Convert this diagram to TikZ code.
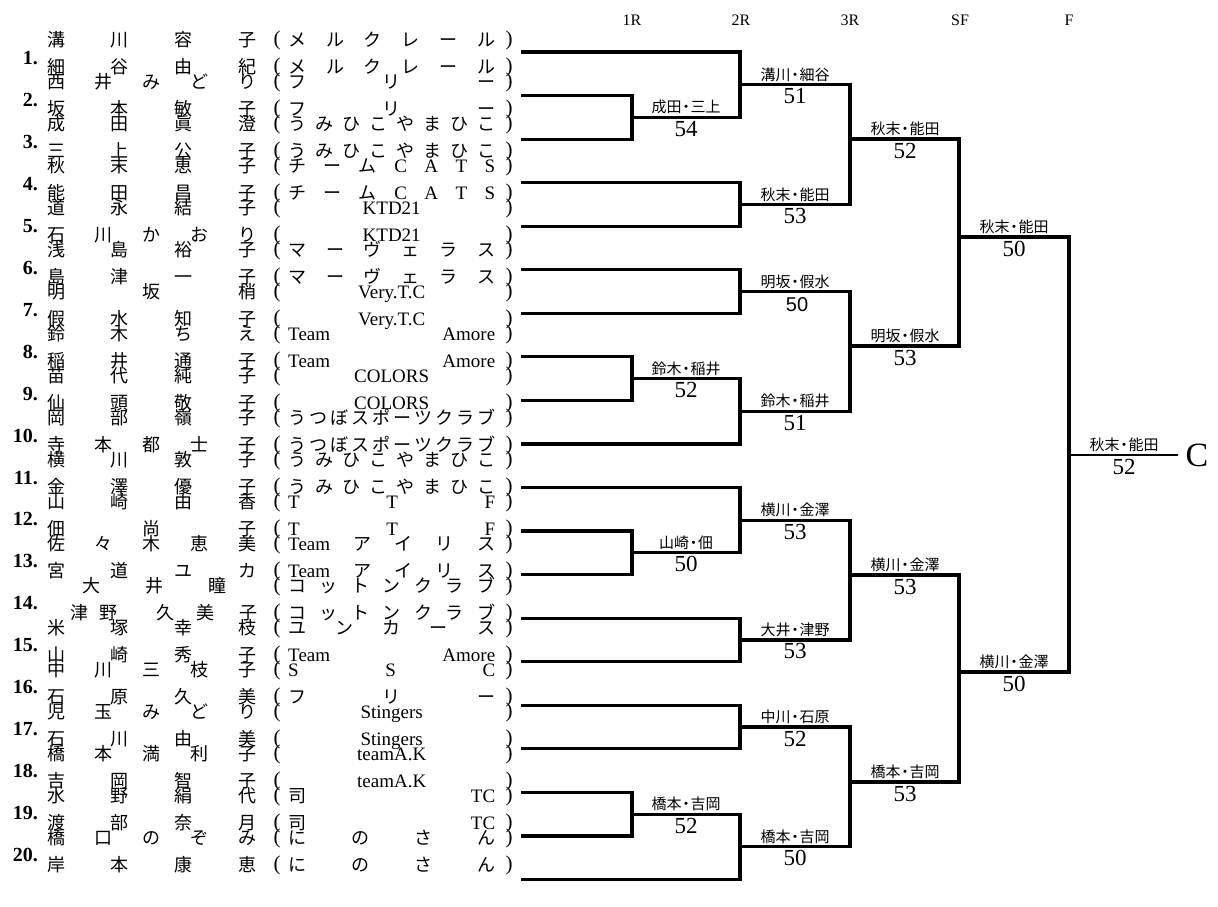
\documentclass[tikz,border=0pt]{standalone}
\usepackage{fontspec}
\setmainfont{Liberation Serif}
\newfontfamily\jp{Noto Sans CJK JP}
\newfontfamily\arl{Liberation Sans}
\newcommand\lat[1]{{\rmfamily\fontsize{19pt}{19pt}\selectfont #1}}
\newcommand\dt{\makebox[0.6em]{・}}
\def\distend{DISTENDMARK}
\newcommand\dist[1]{\distA#1\distend}
\def\distA#1{#1\futurelet\dnext\distC}
\def\distC{\ifx\dnext\distend\expandafter\diststop\else\expandafter\distgo\fi}
\def\diststop\distend{}
\def\distgo{\hfill\distA}
\tikzset{
 br/.style={line width=3.2pt, line join=miter},
 fin/.style={line width=2.6pt},
 nm/.style={anchor=base west, inner sep=0pt, font=\jp\fontsize{18pt}{18pt}\selectfont},
 prn/.style={anchor=base, inner sep=0pt, font=\rmfamily\fontsize{21pt}{21pt}\selectfont},
 num/.style={anchor=base east, inner sep=0pt, font=\rmfamily\bfseries\fontsize{20pt}{20pt}\selectfont},
 hdr/.style={inner sep=0pt, font=\rmfamily\fontsize{16pt}{16pt}\selectfont},
 lbl/.style={inner sep=0pt, font=\jp\fontsize{15pt}{15pt}\selectfont},
 sc/.style={inner sep=0pt, font=\rmfamily\fontsize{23pt}{23pt}\selectfont},
 scs/.style={inner sep=0pt, font=\arl\fontsize{20pt}{20pt}\selectfont},
 ch/.style={inner sep=0pt, font=\rmfamily\fontsize{34pt}{34pt}\selectfont},
}
% #1 id, #2 pair, #3 offset, #4 name content, #5 team content
\newcommand\plrow[5]{%
 \pgfmathsetmacro\yy{58+41.95*(#2-1)+#3}%
 \node[nm] (n#1) at (47,\yy+7) {\hbox to 209pt{#4}};
 \node[prn] (p#1) at (277,\yy+6) {(};
 \node[nm] (t#1) at (288,\yy+7) {\hbox to 207pt{#5}};
 \node[prn] (q#1) at (509,\yy+6) {)};
}
% #1 id, #2 x, #3 y, #4 name, #5 score
\newcommand\res[5]{%
 \node[lbl] (l#1) at (#2,#3-10) {#4};
 \node[sc] (s#1) at (#2,#3+11.5) {#5};
}
\begin{document}
\begin{tikzpicture}[x=1pt,y=-1pt]
\fill[white] (0,0) rectangle (1218,907);
\useasboundingbox (0,0) rectangle (1218,907);

% headers
\node[hdr] (h1) at (632,20) {1R};
\node[hdr] (h2) at (741,20) {2R};
\node[hdr] (h3) at (850,20) {3R};
\node[hdr] (h4) at (960,20) {SF};
\node[hdr] (h5) at (1069,20) {F};

% pair numbers
\foreach \k in {1,...,20} \node[num] (k\k) at (38,{58+41.95*(\k-1)+6.5}) {\k.};

% player lines
\plrow{1}{1}{-18}{\dist{溝川容子}}{\dist{メルクレール}}
\plrow{2}{1}{9}{\dist{細谷由紀}}{\dist{メルクレール}}
\plrow{3}{2}{-18}{\dist{西井みどり}}{\dist{フリー}}
\plrow{4}{2}{9}{\dist{坂本敏子}}{\dist{フリー}}
\plrow{5}{3}{-18}{\dist{成田眞澄}}{\dist{うみひこやまひこ}}
\plrow{6}{3}{9}{\dist{三上公子}}{\dist{うみひこやまひこ}}
\plrow{7}{4}{-18}{\dist{秋末恵子}}{\dist{チーム{\lat C}{\lat A}{\lat T}{\lat S}}}
\plrow{8}{4}{9}{\dist{能田昌子}}{\dist{チーム{\lat C}{\lat A}{\lat T}{\lat S}}}
\plrow{9}{5}{-18}{\dist{道永結子}}{\hfil\lat{KTD21}\hfil}
\plrow{10}{5}{9}{\dist{石川かおり}}{\hfil\lat{KTD21}\hfil}
\plrow{11}{6}{-18}{\dist{浅島裕子}}{\dist{マーヴェラス}}
\plrow{12}{6}{9}{\dist{島津一子}}{\dist{マーヴェラス}}
\plrow{13}{7}{-18}{\dist{明坂梢}}{\hfil\lat{Very.T.C}\hfil}
\plrow{14}{7}{9}{\dist{假水知子}}{\hfil\lat{Very.T.C}\hfil}
\plrow{15}{8}{-18}{\dist{鈴木ちえ}}{\dist{{\lat{Team}}{\lat{Amore}}}}
\plrow{16}{8}{9}{\dist{稲井通子}}{\dist{{\lat{Team}}{\lat{Amore}}}}
\plrow{17}{9}{-18}{\dist{苗代純子}}{\hfil\lat{COLORS}\hfil}
\plrow{18}{9}{9}{\dist{仙頭敬子}}{\hfil\lat{COLORS}\hfil}
\plrow{19}{10}{-18}{\dist{岡部嶺子}}{\dist{うつぼスポーツクラブ}}
\plrow{20}{10}{9}{\dist{寺本都士子}}{\dist{うつぼスポーツクラブ}}
\plrow{21}{11}{-18}{\dist{横川敦子}}{\dist{うみひこやまひこ}}
\plrow{22}{11}{9}{\dist{金澤優子}}{\dist{うみひこやまひこ}}
\plrow{23}{12}{-18}{\dist{山崎由香}}{\dist{{\lat T}{\lat T}{\lat F}}}
\plrow{24}{12}{9}{\dist{佃尚子}}{\dist{{\lat T}{\lat T}{\lat F}}}
\plrow{25}{13}{-18}{\dist{佐々木恵美}}{\dist{{\lat{Team}}アイリス}}
\plrow{26}{13}{9}{\dist{宮道ユカ}}{\dist{{\lat{Team}}アイリス}}
\plrow{27}{14}{-18}{\hskip35pt 大\hfill 井\hfill 瞳\hskip30pt}{\dist{コットンクラブ}}
\plrow{28}{14}{9}{\hskip23pt 津\hskip11pt 野\hskip39pt 久\hskip22pt 美\hskip25pt 子}{\dist{コットンクラブ}}
\plrow{29}{15}{-18}{\dist{米塚幸枝}}{\dist{ユンカース}}
\plrow{30}{15}{9}{\dist{山崎秀子}}{\dist{{\lat{Team}}{\lat{Amore}}}}
\plrow{31}{16}{-18}{\dist{中川三枝子}}{\dist{{\lat S}{\lat S}{\lat C}}}
\plrow{32}{16}{9}{\dist{石原久美}}{\dist{フリー}}
\plrow{33}{17}{-18}{\dist{児玉みどり}}{\hfil\lat{Stingers}\hfil}
\plrow{34}{17}{9}{\dist{石川由美}}{\hfil\lat{Stingers}\hfil}
\plrow{35}{18}{-18}{\dist{橋本満利子}}{\hfil\lat{teamA.K}\hfil}
\plrow{36}{18}{9}{\dist{吉岡智子}}{\hfil\lat{teamA.K}\hfil}
\plrow{37}{19}{-18}{\dist{水野絹代}}{\dist{司{\lat{TC}}}}
\plrow{38}{19}{9}{\dist{渡部奈月}}{\dist{司{\lat{TC}}}}
\plrow{39}{20}{-18}{\dist{橋口のぞみ}}{\dist{にのさん}}
\plrow{40}{20}{9}{\dist{岸本康恵}}{\dist{にのさん}}

% bracket coordinates
\foreach \i in {1,...,20} \coordinate (e\i) at (521,{52+43.55*(\i-1)});
\coordinate (a1) at (632,117.3);
\coordinate (a2) at (632,378.6);
\coordinate (a3) at (632,552.8);
\coordinate (a4) at (632,814.1);
\coordinate (b1) at (740,84.7);
\coordinate (b2) at (740,204.4);
\coordinate (b3) at (740,291.5);
\coordinate (b4) at (740,411.3);
\coordinate (b5) at (740,520.2);
\coordinate (b6) at (740,639.9);
\coordinate (b7) at (740,727);
\coordinate (b8) at (740,846.8);
\coordinate (c1) at (850,139);
\coordinate (c2) at (850,346);
\coordinate (c3) at (850,575);
\coordinate (c4) at (850,782);
\coordinate (d1) at (959,237);
\coordinate (d2) at (959,672);
\coordinate (f) at (1069,455);
\coordinate (champ) at (1178,455);

% 1R
\draw[br] (e2) -| (a1) |- (e3);
\draw[br] (e8) -| (a2) |- (e9);
\draw[br] (e12) -| (a3) |- (e13);
\draw[br] (e18) -| (a4) |- (e19);
% 2R
\draw[br] (e1) -| (b1) |- (a1);
\draw[br] (e4) -| (b2) |- (e5);
\draw[br] (e6) -| (b3) |- (e7);
\draw[br] (a2) -| (b4) |- (e10);
\draw[br] (e11) -| (b5) |- (a3);
\draw[br] (e14) -| (b6) |- (e15);
\draw[br] (e16) -| (b7) |- (e17);
\draw[br] (a4) -| (b8) |- (e20);
% 3R
\draw[br] (b1) -| (c1) |- (b2);
\draw[br] (b3) -| (c2) |- (b4);
\draw[br] (b5) -| (c3) |- (b6);
\draw[br] (b7) -| (c4) |- (b8);
% SF
\draw[br] (c1) -| (d1) |- (c2);
\draw[br] (c3) -| (d2) |- (c4);
% F
\draw[br] (d1) -| (f) |- (d2);
\draw[fin] (f) -- (champ);
\node[ch] (cc) at (1197,455) {C};

% results
\res{a1}{686}{117.3}{成田\dt 三上}{54}
\res{a2}{686}{378.6}{鈴木\dt 稲井}{52}
\res{a3}{686}{552.8}{山崎\dt 佃}{50}
\res{a4}{686}{814.1}{橋本\dt 吉岡}{52}
\res{b1}{795}{84.7}{溝川\dt 細谷}{51}
\res{b2}{795}{204.4}{秋末\dt 能田}{53}
\node[lbl] (lb3) at (795,281.5) {明坂\dt 假水};
\node[scs] (sb3) at (797,305) {50};
\res{b4}{795}{411.3}{鈴木\dt 稲井}{51}
\res{b5}{795}{520.2}{横川\dt 金澤}{53}
\res{b6}{795}{639.9}{大井\dt 津野}{53}
\res{b7}{795}{727}{中川\dt 石原}{52}
\res{b8}{795}{846.8}{橋本\dt 吉岡}{50}
\res{c1}{905}{139}{秋末\dt 能田}{52}
\res{c2}{905}{346}{明坂\dt 假水}{53}
\res{c3}{905}{575}{横川\dt 金澤}{53}
\res{c4}{905}{782}{橋本\dt 吉岡}{53}
\res{d1}{1014}{237}{秋末\dt 能田}{50}
\res{d2}{1014}{672}{横川\dt 金澤}{50}
\res{f}{1124}{455}{秋末\dt 能田}{52}
\end{tikzpicture}
\end{document}
